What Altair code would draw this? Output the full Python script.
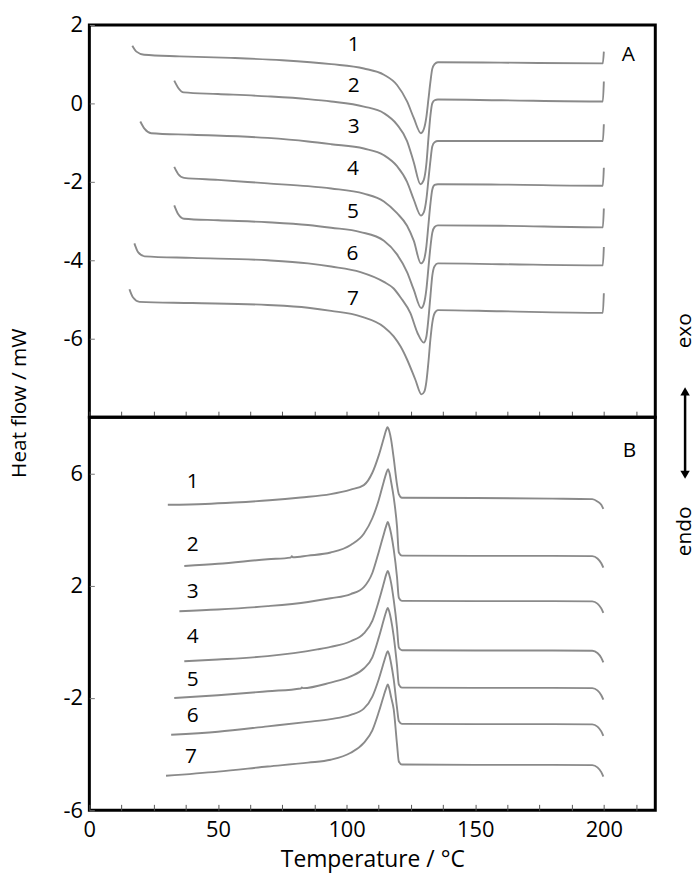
import altair as alt
import pandas as pd

FONT = "Open Sans"
LINE_COLOR = "#8a8a8a"

# ---------------- Panel A (top): heat flow (mW) vs temperature (°C) ----------------
a1_x = [16.7, 18.3, 21.3, 35, 55, 75, 94, 106.7, 114.5, 119.6, 123.5, 126.1, 128.9, 130.0, 131.0, 131.8, 132.6, 133.3, 134.2, 135.5, 160, 199.6, 200]
a1_y = [1.47, 1.32, 1.24, 1.20, 1.16, 1.10, 1.00, 0.89, 0.73, 0.47, 0.05, -0.37, -0.76, -0.66, -0.35, 0.10, 0.56, 0.88, 1.00, 1.05, 1.04, 1.02, 1.32]

a2_x = [33, 34.5, 36.7, 50, 69.3, 85, 94, 106.7, 114.5, 119.6, 123.5, 126.1, 128.7, 130.0, 131.0, 131.8, 132.6, 133.3, 134.2, 135.5, 160, 199.6, 200]
a2_y = [0.58, 0.40, 0.28, 0.24, 0.18, 0.11, 0.05, -0.08, -0.25, -0.54, -0.96, -1.50, -2.06, -1.95, -1.55, -0.90, -0.30, 0.00, 0.08, 0.10, 0.08, 0.05, 0.56]

a3_x = [19.8, 21.5, 24, 40, 69.3, 85, 94, 106.7, 114.5, 119.6, 123.5, 126.1, 128.9, 130.0, 131.0, 131.8, 132.6, 133.3, 134.2, 135.5, 160, 199.6, 200]
a3_y = [-0.46, -0.65, -0.76, -0.80, -0.88, -0.97, -1.04, -1.15, -1.32, -1.60, -2.00, -2.45, -2.86, -2.78, -2.45, -1.95, -1.45, -1.10, -0.99, -0.96, -0.96, -0.96, -0.53]

a4_x = [33, 34.5, 36.8, 50, 69.3, 85, 94, 106.7, 114.5, 119.6, 123.5, 126.1, 128.9, 130.0, 131.0, 131.8, 132.6, 133.3, 134.2, 135.5, 160, 199.6, 200]
a4_y = [-1.62, -1.80, -1.90, -1.95, -2.04, -2.11, -2.17, -2.30, -2.50, -2.80, -3.12, -3.50, -4.08, -4.00, -3.65, -3.10, -2.55, -2.20, -2.08, -2.06, -2.07, -2.10, -1.64]

a5_x = [33, 34.5, 36.8, 50, 69.3, 85, 94, 105.4, 114.5, 119.6, 123.5, 126.1, 129.0, 130.0, 131.0, 131.8, 132.6, 133.3, 134.2, 135.5, 160, 199.6, 200]
a5_y = [-2.60, -2.82, -2.94, -2.98, -3.03, -3.10, -3.17, -3.28, -3.50, -3.85, -4.30, -4.75, -5.22, -5.12, -4.75, -4.20, -3.65, -3.30, -3.15, -3.11, -3.12, -3.16, -2.68]

a6_x = [17.5, 19, 21.5, 40, 69.3, 85, 94, 105.4, 114.5, 118.3, 121.0, 124.8, 127.6, 130.0, 131.0, 131.8, 132.6, 133.3, 134.2, 135.5, 160, 199.6, 200]
a6_y = [-3.57, -3.80, -3.90, -3.94, -4.00, -4.08, -4.16, -4.30, -4.55, -4.72, -4.95, -5.35, -5.86, -6.10, -5.95, -5.50, -4.90, -4.40, -4.15, -4.08, -4.10, -4.13, -3.66]

a7_x = [15.6, 17, 19.5, 40, 69.3, 85, 94, 105.4, 114.5, 118.3, 121.0, 123.5, 126.7, 129.1, 130.2, 131.0, 131.8, 132.6, 133.3, 134.2, 135.5, 160, 199.6, 200]
a7_y = [-4.74, -4.95, -5.06, -5.09, -5.14, -5.21, -5.29, -5.43, -5.70, -5.94, -6.20, -6.53, -7.04, -7.42, -7.35, -7.10, -6.60, -6.00, -5.60, -5.35, -5.27, -5.30, -5.34, -4.84]

# ---------------- Panel B (bottom) ----------------
b1_x = [30.5, 45, 56.3, 70, 82.2, 93.8, 101.6, 106.7, 110, 112.5, 114.5, 115.4, 115.9, 116.6, 117.3, 118.3, 119.6, 120.3, 121.5, 150, 180, 195.5, 197.5, 199, 199.8]
b1_y = [4.88, 4.91, 4.96, 5.04, 5.14, 5.26, 5.42, 5.58, 6.02, 6.64, 7.27, 7.55, 7.64, 7.50, 7.20, 6.55, 5.60, 5.26, 5.13, 5.12, 5.10, 5.08, 5.00, 4.88, 4.73]

b2_x = [36.9, 50, 69.3, 78.3, 78.7, 79.1, 85, 93.8, 101.6, 106.7, 110, 112.5, 114.5, 115.4, 116.1, 116.7, 117.3, 118.3, 119.6, 120.3, 121.5, 150, 180, 195.5, 197.5, 199, 199.8]
b2_y = [2.70, 2.78, 2.94, 3.00, 3.05, 3.01, 3.07, 3.18, 3.45, 3.85, 4.40, 5.05, 5.72, 6.00, 6.15, 6.00, 5.70, 5.15, 4.10, 3.18, 3.07, 3.06, 3.06, 3.05, 2.97, 2.80, 2.64]

b3_x = [35, 50, 69.3, 85, 93.8, 101.6, 106.7, 110, 112.5, 114.5, 115.4, 116.0, 116.6, 117.3, 118.3, 119.6, 120.3, 121.5, 150, 180, 195.5, 197.5, 199, 199.8]
b3_y = [1.09, 1.15, 1.27, 1.42, 1.55, 1.70, 1.95, 2.45, 3.20, 3.85, 4.13, 4.27, 4.12, 3.85, 3.30, 2.30, 1.57, 1.46, 1.45, 1.45, 1.44, 1.36, 1.19, 1.03]

b4_x = [36.9, 50, 69.3, 88.6, 93.8, 101.6, 106.7, 110, 112.5, 114.5, 115.4, 116.0, 116.6, 117.3, 118.3, 119.6, 120.3, 121.5, 150, 180, 195.5, 197.5, 199, 199.8]
b4_y = [-0.69, -0.63, -0.51, -0.27, -0.18, 0.02, 0.30, 0.75, 1.45, 2.10, 2.40, 2.52, 2.38, 2.10, 1.50, 0.50, -0.20, -0.30, -0.31, -0.31, -0.32, -0.40, -0.57, -0.73]

b5_x = [33, 50, 69.3, 82.2, 82.6, 83.0, 93.8, 101.6, 106.7, 110, 112.5, 114.5, 115.4, 116.0, 116.6, 117.3, 118.3, 119.6, 120.3, 121.5, 150, 180, 195.5, 197.5, 199, 199.8]
b5_y = [-2.00, -1.90, -1.76, -1.66, -1.62, -1.65, -1.45, -1.23, -0.95, -0.55, 0.15, 0.80, 1.08, 1.21, 1.07, 0.78, 0.20, -0.85, -1.52, -1.63, -1.64, -1.64, -1.65, -1.73, -1.90, -2.06]

b6_x = [31.8, 50, 69.3, 85, 93.8, 101.6, 106.7, 110, 112.5, 114.5, 115.4, 116.0, 116.6, 117.3, 118.3, 119.6, 120.3, 121.5, 150, 180, 195.5, 197.5, 199, 199.8]
b6_y = [-3.31, -3.20, -3.01, -2.85, -2.75, -2.60, -2.38, -1.95, -1.33, -0.72, -0.45, -0.33, -0.47, -0.77, -1.33, -2.35, -2.82, -2.92, -2.93, -2.93, -2.94, -3.02, -3.19, -3.35]

b7_x = [29.8, 50, 69.3, 85, 93.8, 101.6, 106.7, 110, 112.5, 114.5, 115.4, 116.0, 116.6, 117.3, 118.3, 119.6, 120.3, 121.5, 150, 180, 195.5, 197.5, 199, 199.8]
b7_y = [-4.77, -4.62, -4.44, -4.30, -4.20, -3.95, -3.60, -3.15, -2.50, -1.90, -1.65, -1.52, -1.67, -1.97, -2.40, -3.65, -4.26, -4.37, -4.38, -4.38, -4.39, -4.47, -4.64, -4.80]

# curve numbers
curve_names = ["1", "2", "3", "4", "5", "6", "7"]
labelA_x = [102.8, 102.8, 102.8, 102.5, 102.5, 102.3, 102.5]
labelA_y = [1.49, 0.43, -0.61, -1.68, -2.78, -3.83, -5.00]
labelB_x = [40.2, 40.2, 40.2, 40.2, 40.2, 40.2, 39.5]
labelB_y = [5.68, 3.45, 1.79, 0.17, -1.35, -2.65, -4.12]

panel_names = ["A", "B"]
panel_x = [209.5, 210.0]
panel_y = [1.23, 6.81]

x_domain = [0, 220]
x_major = [0, 50, 100, 150, 200]
x_minor = [0, 12.5, 25, 37.5, 50, 62.5, 75, 87.5, 100, 112.5, 125, 137.5, 150, 162.5, 175, 187.5, 200, 212.5]
yA_domain = [-8, 2]
yA_ticks = [-6, -4, -2, 0, 2]
yB_domain = [-6, 8]
yB_ticks = [-6, -2, 2, 6]

W = 570
HA = 395
HB = 396
TICK_FS = 22
TEXT_FS = 21
HYPHEN = "datum.value < 0 ? '-' + format(-datum.value, 'd') : format(datum.value, 'd')"


def curves_frame(curves):
    rows = []
    for name, (xs, ys) in zip(curve_names, curves):
        for j, (xv, yv) in enumerate(zip(xs, ys)):
            rows.append({"curve": name, "x": xv, "y": yv, "o": j})
    return pd.DataFrame(rows)


dfA = curves_frame([(a1_x, a1_y), (a2_x, a2_y), (a3_x, a3_y), (a4_x, a4_y), (a5_x, a5_y), (a6_x, a6_y), (a7_x, a7_y)])
dfB = curves_frame([(b1_x, b1_y), (b2_x, b2_y), (b3_x, b3_y), (b4_x, b4_y), (b5_x, b5_y), (b6_x, b6_y), (b7_x, b7_y)])
labA = pd.DataFrame({"t": curve_names + [panel_names[0]], "x": labelA_x + [panel_x[0]], "y": labelA_y + [panel_y[0]]})
labB = pd.DataFrame({"t": curve_names + [panel_names[1]], "x": labelB_x + [panel_x[1]], "y": labelB_y + [panel_y[1]]})
one = pd.DataFrame({"k": [0]})


def panel(df, lab, ydom, yticks, bottom):
    xs = alt.Scale(domain=x_domain, nice=False, zero=False)
    ys = alt.Scale(domain=ydom, nice=False, zero=False)
    if bottom:
        xaxis = alt.Axis(values=x_major, ticks=False, domain=False, grid=False, labelFontSize=TICK_FS,
                         labelFont=FONT, labelColor="black", labelPadding=9, labelFlush=False,
                         title="Temperature / °C", titleFontSize=23, titleFont=FONT,
                         titleFontWeight="normal", titleColor="black", titlePadding=9, orient="bottom")
    else:
        xaxis = alt.Axis(values=x_major, ticks=False, domain=False, grid=False, labels=False,
                         title=None, orient="bottom")
    yaxis = alt.Axis(values=yticks, ticks=False, domain=False, grid=False, labelFontSize=TICK_FS,
                     labelFont=FONT, labelColor="black", labelPadding=7, labelFlush=False,
                     labelExpr=HYPHEN, title=None, orient="left")
    lines = alt.Chart(df).mark_line(color=LINE_COLOR, strokeWidth=1.9, interpolate="monotone").encode(
        x=alt.X("x:Q", scale=xs, axis=xaxis),
        y=alt.Y("y:Q", scale=ys, axis=yaxis),
        detail="curve:N",
        order="o:Q",
    )
    texts = alt.Chart(lab).mark_text(font=FONT, fontSize=TEXT_FS, color="black", align="center", baseline="middle").encode(
        x=alt.X("x:Q", scale=xs, axis=alt.Axis(values=x_minor, labels=False, domain=False, grid=False,
                                                 tickSize=6, offset=-6, tickColor="#555555",
                                                 tickWidth=1, title=None, orient="bottom")),
        y=alt.Y("y:Q", scale=ys, axis=alt.Axis(values=yticks, labels=False, domain=False, grid=False,
                                                 tickSize=5, offset=-5, tickColor="#777777",
                                                 tickWidth=1, title=None, orient="left")),
        text="t:N",
    )
    return lines, texts


linesA, textsA = panel(dfA, labA, yA_domain, yA_ticks, False)
linesB, textsB = panel(dfB, labB, yB_domain, yB_ticks, True)

# side annotations (placed in pixel space of the top panel)
ytitle = alt.Chart(one).mark_text(text="Heat flow / mW", angle=270, font=FONT, fontSize=TEXT_FS,
                                  color="black", align="center", baseline="middle").encode(
    x=alt.value(-70), y=alt.value(381))
exo = alt.Chart(one).mark_text(text="exo", angle=270, font=FONT, fontSize=TEXT_FS, color="black",
                               align="center", baseline="middle").encode(x=alt.value(600), y=alt.value(308))
endo = alt.Chart(one).mark_text(text="endo", angle=270, font=FONT, fontSize=TEXT_FS, color="black",
                                align="center", baseline="middle").encode(x=alt.value(600), y=alt.value(510))
shaft = alt.Chart(one).mark_rule(color="black", strokeWidth=2.5).encode(
    x=alt.value(600), y=alt.value(370), y2=alt.value(452))
head_up = alt.Chart(one).mark_point(shape="triangle-up", filled=True, color="black", size=90, opacity=1).encode(
    x=alt.value(600), y=alt.value(369))
head_dn = alt.Chart(one).mark_point(shape="triangle-down", filled=True, color="black", size=90, opacity=1).encode(
    x=alt.value(600), y=alt.value(453))

top = alt.layer(linesA, textsA, ytitle, exo, endo, shaft, head_up, head_dn).resolve_axis(
    x="independent", y="independent").properties(width=W, height=HA)
bottom = alt.layer(linesB, textsB).resolve_axis(
    x="independent", y="independent").properties(width=W, height=HB)

chart = alt.vconcat(top, bottom, spacing=0, bounds="flush").properties(
    padding={"left": 7, "top": 9, "right": 0, "bottom": 0},
    background="white",
).configure_view(stroke="black", strokeWidth=3)

chart.save("out.html", embed_options={"renderer": "svg", "actions": False})
